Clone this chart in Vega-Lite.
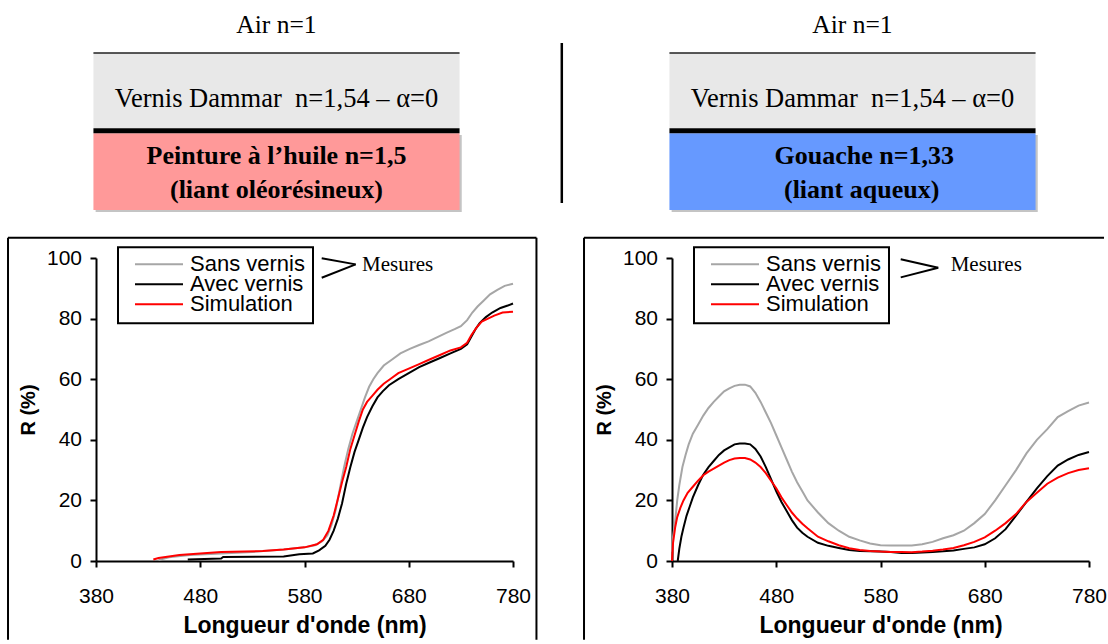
{
  "$schema": "https://vega.github.io/schema/vega-lite/v6.json",
  "autosize": {"type": "pad"},
  "padding": {"left": 7, "top": 0, "right": 0, "bottom": 0},
  "background": "white",
  "columns": 2,
  "spacing": {"row": 28, "column": 159},
  "bounds": "flush",
  "resolve": {"scale": {"color": "independent"}},
  "config": {
    "view": {"stroke": null},
    "axis": {"domainColor": "black", "domainWidth": 2, "tickColor": "black", "tickWidth": 2, "tickSize": 6, "labelFont": "Liberation Sans", "labelFontSize": 21, "labelColor": "black", "titleFont": "Liberation Sans", "titleFontSize": 20, "titleFontWeight": "bold", "titleColor": "black", "grid": false, "labelFlush": false, "labelOverlap": false},
    "axisX": {"labelPadding": 18.5, "titlePadding": 8, "titleFontSize": 23},
    "axisY": {"labelPadding": 8.5, "titlePadding": 8},
    "legend": {"strokeWidth": 2}
  },
  "datasets": {
    "one": [{"k": 1}],
    "oil": [
      {"serie": "Sans vernis", "nm": 440, "R": 0.3}, {"serie": "Sans vernis", "nm": 450, "R": 1.2}, {"serie": "Sans vernis", "nm": 470, "R": 2}, {"serie": "Sans vernis", "nm": 500, "R": 2.5}, {"serie": "Sans vernis", "nm": 530, "R": 3}, {"serie": "Sans vernis", "nm": 560, "R": 3.8}, {"serie": "Sans vernis", "nm": 580, "R": 4.5}, {"serie": "Sans vernis", "nm": 590, "R": 5.2}, {"serie": "Sans vernis", "nm": 597, "R": 6.5}, {"serie": "Sans vernis", "nm": 602, "R": 8.5}, {"serie": "Sans vernis", "nm": 606, "R": 12}, {"serie": "Sans vernis", "nm": 610, "R": 17}, {"serie": "Sans vernis", "nm": 614, "R": 24}, {"serie": "Sans vernis", "nm": 618, "R": 31}, {"serie": "Sans vernis", "nm": 622, "R": 37}, {"serie": "Sans vernis", "nm": 626, "R": 42}, {"serie": "Sans vernis", "nm": 630, "R": 46}, {"serie": "Sans vernis", "nm": 634, "R": 50}, {"serie": "Sans vernis", "nm": 638, "R": 54}, {"serie": "Sans vernis", "nm": 642, "R": 57.5}, {"serie": "Sans vernis", "nm": 646, "R": 60}, {"serie": "Sans vernis", "nm": 650, "R": 62}, {"serie": "Sans vernis", "nm": 656, "R": 64.5}, {"serie": "Sans vernis", "nm": 664, "R": 66.5}, {"serie": "Sans vernis", "nm": 672, "R": 68.5}, {"serie": "Sans vernis", "nm": 681, "R": 70}, {"serie": "Sans vernis", "nm": 690, "R": 71.3}, {"serie": "Sans vernis", "nm": 699, "R": 72.5}, {"serie": "Sans vernis", "nm": 708, "R": 74}, {"serie": "Sans vernis", "nm": 716, "R": 75.3}, {"serie": "Sans vernis", "nm": 724, "R": 76.5}, {"serie": "Sans vernis", "nm": 730, "R": 77.5}, {"serie": "Sans vernis", "nm": 736, "R": 79.5}, {"serie": "Sans vernis", "nm": 741, "R": 82}, {"serie": "Sans vernis", "nm": 746, "R": 84}, {"serie": "Sans vernis", "nm": 752, "R": 86}, {"serie": "Sans vernis", "nm": 758, "R": 88}, {"serie": "Sans vernis", "nm": 765, "R": 89.5}, {"serie": "Sans vernis", "nm": 772, "R": 90.8}, {"serie": "Sans vernis", "nm": 780, "R": 91.5},
      {"serie": "Avec vernis", "nm": 468, "R": 0.5}, {"serie": "Avec vernis", "nm": 500, "R": 0.8}, {"serie": "Avec vernis", "nm": 502, "R": 1.3}, {"serie": "Avec vernis", "nm": 560, "R": 1.5}, {"serie": "Avec vernis", "nm": 575, "R": 2.2}, {"serie": "Avec vernis", "nm": 588, "R": 2.5}, {"serie": "Avec vernis", "nm": 594, "R": 3.5}, {"serie": "Avec vernis", "nm": 600, "R": 5}, {"serie": "Avec vernis", "nm": 604, "R": 7}, {"serie": "Avec vernis", "nm": 608, "R": 10}, {"serie": "Avec vernis", "nm": 612, "R": 14}, {"serie": "Avec vernis", "nm": 616, "R": 19}, {"serie": "Avec vernis", "nm": 620, "R": 25.5}, {"serie": "Avec vernis", "nm": 624, "R": 31}, {"serie": "Avec vernis", "nm": 628, "R": 36}, {"serie": "Avec vernis", "nm": 632, "R": 40}, {"serie": "Avec vernis", "nm": 636, "R": 44}, {"serie": "Avec vernis", "nm": 640, "R": 47.5}, {"serie": "Avec vernis", "nm": 645, "R": 51}, {"serie": "Avec vernis", "nm": 650, "R": 54}, {"serie": "Avec vernis", "nm": 655, "R": 56}, {"serie": "Avec vernis", "nm": 661, "R": 58}, {"serie": "Avec vernis", "nm": 670, "R": 60}, {"serie": "Avec vernis", "nm": 680, "R": 62}, {"serie": "Avec vernis", "nm": 690, "R": 64}, {"serie": "Avec vernis", "nm": 700, "R": 65.5}, {"serie": "Avec vernis", "nm": 710, "R": 67}, {"serie": "Avec vernis", "nm": 720, "R": 68.5}, {"serie": "Avec vernis", "nm": 730, "R": 70}, {"serie": "Avec vernis", "nm": 736, "R": 71.5}, {"serie": "Avec vernis", "nm": 740, "R": 74}, {"serie": "Avec vernis", "nm": 744, "R": 76.5}, {"serie": "Avec vernis", "nm": 748, "R": 78.5}, {"serie": "Avec vernis", "nm": 754, "R": 80.5}, {"serie": "Avec vernis", "nm": 760, "R": 82}, {"serie": "Avec vernis", "nm": 768, "R": 83.5}, {"serie": "Avec vernis", "nm": 775, "R": 84.3}, {"serie": "Avec vernis", "nm": 780, "R": 85},
      {"serie": "Simulation", "nm": 435, "R": 0.5}, {"serie": "Simulation", "nm": 440, "R": 1}, {"serie": "Simulation", "nm": 450, "R": 1.5}, {"serie": "Simulation", "nm": 460, "R": 2}, {"serie": "Simulation", "nm": 480, "R": 2.5}, {"serie": "Simulation", "nm": 500, "R": 3}, {"serie": "Simulation", "nm": 540, "R": 3.3}, {"serie": "Simulation", "nm": 560, "R": 3.8}, {"serie": "Simulation", "nm": 580, "R": 4.5}, {"serie": "Simulation", "nm": 592, "R": 5.5}, {"serie": "Simulation", "nm": 598, "R": 7}, {"serie": "Simulation", "nm": 603, "R": 10}, {"serie": "Simulation", "nm": 608, "R": 15}, {"serie": "Simulation", "nm": 612, "R": 20.5}, {"serie": "Simulation", "nm": 616, "R": 26}, {"serie": "Simulation", "nm": 620, "R": 31}, {"serie": "Simulation", "nm": 624, "R": 37}, {"serie": "Simulation", "nm": 628, "R": 41.5}, {"serie": "Simulation", "nm": 632, "R": 46}, {"serie": "Simulation", "nm": 636, "R": 50}, {"serie": "Simulation", "nm": 640, "R": 52.5}, {"serie": "Simulation", "nm": 645, "R": 54.5}, {"serie": "Simulation", "nm": 650, "R": 56.5}, {"serie": "Simulation", "nm": 656, "R": 58.5}, {"serie": "Simulation", "nm": 662, "R": 60}, {"serie": "Simulation", "nm": 670, "R": 62}, {"serie": "Simulation", "nm": 680, "R": 63.5}, {"serie": "Simulation", "nm": 690, "R": 65}, {"serie": "Simulation", "nm": 700, "R": 66.5}, {"serie": "Simulation", "nm": 710, "R": 68}, {"serie": "Simulation", "nm": 720, "R": 69.5}, {"serie": "Simulation", "nm": 730, "R": 70.5}, {"serie": "Simulation", "nm": 736, "R": 72}, {"serie": "Simulation", "nm": 740, "R": 74.5}, {"serie": "Simulation", "nm": 745, "R": 77}, {"serie": "Simulation", "nm": 750, "R": 79}, {"serie": "Simulation", "nm": 756, "R": 80}, {"serie": "Simulation", "nm": 762, "R": 81}, {"serie": "Simulation", "nm": 770, "R": 82}, {"serie": "Simulation", "nm": 780, "R": 82.3}
    ],
    "gouache": [
      {"serie": "Sans vernis", "nm": 380, "R": 3}, {"serie": "Sans vernis", "nm": 381, "R": 8}, {"serie": "Sans vernis", "nm": 383, "R": 13}, {"serie": "Sans vernis", "nm": 385, "R": 20}, {"serie": "Sans vernis", "nm": 387, "R": 25}, {"serie": "Sans vernis", "nm": 390, "R": 31}, {"serie": "Sans vernis", "nm": 393, "R": 35}, {"serie": "Sans vernis", "nm": 396, "R": 38.5}, {"serie": "Sans vernis", "nm": 400, "R": 42}, {"serie": "Sans vernis", "nm": 405, "R": 45}, {"serie": "Sans vernis", "nm": 410, "R": 48}, {"serie": "Sans vernis", "nm": 415, "R": 50.5}, {"serie": "Sans vernis", "nm": 420, "R": 52.5}, {"serie": "Sans vernis", "nm": 425, "R": 54.3}, {"serie": "Sans vernis", "nm": 430, "R": 56}, {"serie": "Sans vernis", "nm": 435, "R": 57}, {"serie": "Sans vernis", "nm": 440, "R": 57.8}, {"serie": "Sans vernis", "nm": 445, "R": 58.2}, {"serie": "Sans vernis", "nm": 450, "R": 58.2}, {"serie": "Sans vernis", "nm": 455, "R": 57.6}, {"serie": "Sans vernis", "nm": 460, "R": 55.5}, {"serie": "Sans vernis", "nm": 465, "R": 52.5}, {"serie": "Sans vernis", "nm": 470, "R": 49}, {"serie": "Sans vernis", "nm": 475, "R": 45.5}, {"serie": "Sans vernis", "nm": 480, "R": 41.5}, {"serie": "Sans vernis", "nm": 485, "R": 37.5}, {"serie": "Sans vernis", "nm": 490, "R": 33.5}, {"serie": "Sans vernis", "nm": 495, "R": 29.5}, {"serie": "Sans vernis", "nm": 500, "R": 26}, {"serie": "Sans vernis", "nm": 505, "R": 23}, {"serie": "Sans vernis", "nm": 510, "R": 20}, {"serie": "Sans vernis", "nm": 520, "R": 16}, {"serie": "Sans vernis", "nm": 530, "R": 12.5}, {"serie": "Sans vernis", "nm": 540, "R": 10}, {"serie": "Sans vernis", "nm": 550, "R": 8}, {"serie": "Sans vernis", "nm": 560, "R": 6.8}, {"serie": "Sans vernis", "nm": 570, "R": 5.8}, {"serie": "Sans vernis", "nm": 580, "R": 5.2}, {"serie": "Sans vernis", "nm": 590, "R": 5.1}, {"serie": "Sans vernis", "nm": 600, "R": 5.1}, {"serie": "Sans vernis", "nm": 610, "R": 5.1}, {"serie": "Sans vernis", "nm": 620, "R": 5.5}, {"serie": "Sans vernis", "nm": 630, "R": 6.3}, {"serie": "Sans vernis", "nm": 640, "R": 7.5}, {"serie": "Sans vernis", "nm": 650, "R": 8.5}, {"serie": "Sans vernis", "nm": 660, "R": 10}, {"serie": "Sans vernis", "nm": 670, "R": 12.5}, {"serie": "Sans vernis", "nm": 680, "R": 15.5}, {"serie": "Sans vernis", "nm": 690, "R": 20}, {"serie": "Sans vernis", "nm": 700, "R": 25}, {"serie": "Sans vernis", "nm": 710, "R": 30}, {"serie": "Sans vernis", "nm": 720, "R": 35.5}, {"serie": "Sans vernis", "nm": 730, "R": 40}, {"serie": "Sans vernis", "nm": 740, "R": 43.5}, {"serie": "Sans vernis", "nm": 750, "R": 47.5}, {"serie": "Sans vernis", "nm": 760, "R": 49.5}, {"serie": "Sans vernis", "nm": 770, "R": 51.3}, {"serie": "Sans vernis", "nm": 780, "R": 52.3},
      {"serie": "Avec vernis", "nm": 385.5, "R": 0}, {"serie": "Avec vernis", "nm": 387, "R": 4}, {"serie": "Avec vernis", "nm": 389, "R": 8}, {"serie": "Avec vernis", "nm": 391, "R": 11}, {"serie": "Avec vernis", "nm": 394, "R": 15}, {"serie": "Avec vernis", "nm": 397, "R": 18}, {"serie": "Avec vernis", "nm": 400, "R": 21}, {"serie": "Avec vernis", "nm": 405, "R": 25}, {"serie": "Avec vernis", "nm": 410, "R": 28.5}, {"serie": "Avec vernis", "nm": 415, "R": 31}, {"serie": "Avec vernis", "nm": 420, "R": 33}, {"serie": "Avec vernis", "nm": 425, "R": 35}, {"serie": "Avec vernis", "nm": 430, "R": 36.5}, {"serie": "Avec vernis", "nm": 435, "R": 37.5}, {"serie": "Avec vernis", "nm": 440, "R": 38.5}, {"serie": "Avec vernis", "nm": 445, "R": 38.8}, {"serie": "Avec vernis", "nm": 450, "R": 38.8}, {"serie": "Avec vernis", "nm": 455, "R": 38.5}, {"serie": "Avec vernis", "nm": 460, "R": 37}, {"serie": "Avec vernis", "nm": 465, "R": 34.5}, {"serie": "Avec vernis", "nm": 470, "R": 31}, {"serie": "Avec vernis", "nm": 475, "R": 27}, {"serie": "Avec vernis", "nm": 480, "R": 23}, {"serie": "Avec vernis", "nm": 485, "R": 19.5}, {"serie": "Avec vernis", "nm": 490, "R": 16.5}, {"serie": "Avec vernis", "nm": 495, "R": 13.5}, {"serie": "Avec vernis", "nm": 500, "R": 11}, {"serie": "Avec vernis", "nm": 505, "R": 9.3}, {"serie": "Avec vernis", "nm": 510, "R": 8}, {"serie": "Avec vernis", "nm": 520, "R": 6}, {"serie": "Avec vernis", "nm": 530, "R": 5}, {"serie": "Avec vernis", "nm": 540, "R": 4.3}, {"serie": "Avec vernis", "nm": 550, "R": 3.6}, {"serie": "Avec vernis", "nm": 560, "R": 3.3}, {"serie": "Avec vernis", "nm": 570, "R": 3.2}, {"serie": "Avec vernis", "nm": 580, "R": 3.1}, {"serie": "Avec vernis", "nm": 590, "R": 3}, {"serie": "Avec vernis", "nm": 600, "R": 2.6}, {"serie": "Avec vernis", "nm": 610, "R": 2.6}, {"serie": "Avec vernis", "nm": 620, "R": 2.8}, {"serie": "Avec vernis", "nm": 630, "R": 3}, {"serie": "Avec vernis", "nm": 640, "R": 3.2}, {"serie": "Avec vernis", "nm": 650, "R": 3.5}, {"serie": "Avec vernis", "nm": 660, "R": 4}, {"serie": "Avec vernis", "nm": 670, "R": 4.5}, {"serie": "Avec vernis", "nm": 680, "R": 5.5}, {"serie": "Avec vernis", "nm": 690, "R": 7.5}, {"serie": "Avec vernis", "nm": 700, "R": 10.5}, {"serie": "Avec vernis", "nm": 710, "R": 15}, {"serie": "Avec vernis", "nm": 720, "R": 19.5}, {"serie": "Avec vernis", "nm": 730, "R": 24}, {"serie": "Avec vernis", "nm": 740, "R": 28}, {"serie": "Avec vernis", "nm": 750, "R": 31.5}, {"serie": "Avec vernis", "nm": 760, "R": 33.5}, {"serie": "Avec vernis", "nm": 770, "R": 35}, {"serie": "Avec vernis", "nm": 780, "R": 36},
      {"serie": "Simulation", "nm": 380, "R": 0}, {"serie": "Simulation", "nm": 381, "R": 6}, {"serie": "Simulation", "nm": 383, "R": 11}, {"serie": "Simulation", "nm": 385, "R": 14.5}, {"serie": "Simulation", "nm": 388, "R": 17.5}, {"serie": "Simulation", "nm": 391, "R": 20}, {"serie": "Simulation", "nm": 395, "R": 22.5}, {"serie": "Simulation", "nm": 400, "R": 24.5}, {"serie": "Simulation", "nm": 405, "R": 26.5}, {"serie": "Simulation", "nm": 410, "R": 28.3}, {"serie": "Simulation", "nm": 415, "R": 29.5}, {"serie": "Simulation", "nm": 420, "R": 30.5}, {"serie": "Simulation", "nm": 425, "R": 31.5}, {"serie": "Simulation", "nm": 430, "R": 32.5}, {"serie": "Simulation", "nm": 435, "R": 33.3}, {"serie": "Simulation", "nm": 440, "R": 33.8}, {"serie": "Simulation", "nm": 445, "R": 34}, {"serie": "Simulation", "nm": 450, "R": 34}, {"serie": "Simulation", "nm": 455, "R": 33.5}, {"serie": "Simulation", "nm": 460, "R": 32.5}, {"serie": "Simulation", "nm": 465, "R": 31}, {"serie": "Simulation", "nm": 470, "R": 29}, {"serie": "Simulation", "nm": 475, "R": 26.5}, {"serie": "Simulation", "nm": 480, "R": 24}, {"serie": "Simulation", "nm": 485, "R": 21}, {"serie": "Simulation", "nm": 490, "R": 18.5}, {"serie": "Simulation", "nm": 495, "R": 16}, {"serie": "Simulation", "nm": 500, "R": 14}, {"serie": "Simulation", "nm": 505, "R": 12.3}, {"serie": "Simulation", "nm": 510, "R": 10.8}, {"serie": "Simulation", "nm": 520, "R": 8}, {"serie": "Simulation", "nm": 530, "R": 6.5}, {"serie": "Simulation", "nm": 540, "R": 5.2}, {"serie": "Simulation", "nm": 550, "R": 4.2}, {"serie": "Simulation", "nm": 560, "R": 3.6}, {"serie": "Simulation", "nm": 570, "R": 3.3}, {"serie": "Simulation", "nm": 580, "R": 3.1}, {"serie": "Simulation", "nm": 590, "R": 3}, {"serie": "Simulation", "nm": 600, "R": 3}, {"serie": "Simulation", "nm": 610, "R": 2.9}, {"serie": "Simulation", "nm": 620, "R": 3.1}, {"serie": "Simulation", "nm": 630, "R": 3.4}, {"serie": "Simulation", "nm": 640, "R": 3.8}, {"serie": "Simulation", "nm": 650, "R": 4.3}, {"serie": "Simulation", "nm": 660, "R": 5.2}, {"serie": "Simulation", "nm": 670, "R": 6.3}, {"serie": "Simulation", "nm": 680, "R": 7.8}, {"serie": "Simulation", "nm": 690, "R": 10}, {"serie": "Simulation", "nm": 700, "R": 12.5}, {"serie": "Simulation", "nm": 710, "R": 15.5}, {"serie": "Simulation", "nm": 720, "R": 19.5}, {"serie": "Simulation", "nm": 730, "R": 22.5}, {"serie": "Simulation", "nm": 740, "R": 25.5}, {"serie": "Simulation", "nm": 750, "R": 27.5}, {"serie": "Simulation", "nm": 760, "R": 29}, {"serie": "Simulation", "nm": 770, "R": 30}, {"serie": "Simulation", "nm": 780, "R": 30.6}
    ]
  },
  "concat": [
    {
      "width": 417, "height": 230,
      "data": {"name": "one"},
      "layer": [
        {"mark": {"type": "rect", "fill": "#E8E8E8"}, "encoding": {"x": {"datum": 0, "type": "quantitative", "scale": {"domain": [0.7, 114.6]}, "axis": null}, "x2": {"datum": 100}, "y": {"datum": 52.7, "type": "quantitative", "scale": {"domain": [0, 230], "reverse": true}, "axis": null}, "y2": {"datum": 128.3}}},
        {"mark": {"type": "rect", "fill": "#C4C4C4"}, "encoding": {"x": {"datum": 0.6, "type": "quantitative", "scale": {"domain": [0.7, 114.6]}, "axis": null}, "x2": {"datum": 100.6}, "y": {"datum": 135, "type": "quantitative", "scale": {"domain": [0, 230], "reverse": true}, "axis": null}, "y2": {"datum": 212}}},
        {"mark": {"type": "rect", "fill": "#FF9999"}, "encoding": {"x": {"datum": 0, "type": "quantitative", "scale": {"domain": [0.7, 114.6]}, "axis": null}, "x2": {"datum": 100}, "y": {"datum": 133.3, "type": "quantitative", "scale": {"domain": [0, 230], "reverse": true}, "axis": null}, "y2": {"datum": 210}}},
        {"mark": {"type": "rule", "stroke": "#222222", "strokeWidth": 1.5}, "encoding": {"x": {"datum": 0, "type": "quantitative", "scale": {"domain": [0.7, 114.6]}, "axis": null}, "x2": {"datum": 100}, "y": {"datum": 53, "type": "quantitative", "scale": {"domain": [0, 230], "reverse": true}, "axis": null}}},
        {"mark": {"type": "rule", "stroke": "black", "strokeWidth": 5}, "encoding": {"x": {"datum": 0, "type": "quantitative", "scale": {"domain": [0.7, 114.6]}, "axis": null}, "x2": {"datum": 100}, "y": {"datum": 130.8, "type": "quantitative", "scale": {"domain": [0, 230], "reverse": true}, "axis": null}}},
        {"mark": {"type": "text", "text": "Air n=1", "font": "Liberation Serif", "fontSize": 25.5, "align": "center", "baseline": "middle", "color": "black"}, "encoding": {"x": {"datum": 50, "type": "quantitative", "scale": {"domain": [0.7, 114.6]}, "axis": null}, "y": {"datum": 25, "type": "quantitative", "scale": {"domain": [0, 230], "reverse": true}, "axis": null}}},
        {"mark": {"type": "text", "text": "Vernis Dammar\u00a0\u00a0n=1,54 – α=0", "font": "Liberation Serif", "fontSize": 26.5, "align": "center", "baseline": "middle", "color": "black"}, "encoding": {"x": {"datum": 50, "type": "quantitative", "scale": {"domain": [0.7, 114.6]}, "axis": null}, "y": {"datum": 98.5, "type": "quantitative", "scale": {"domain": [0, 230], "reverse": true}, "axis": null}}},
        {"mark": {"type": "text", "text": "Peinture à l’huile n=1,5", "font": "Liberation Serif", "fontSize": 26, "fontWeight": "bold", "align": "center", "baseline": "middle", "color": "black"}, "encoding": {"x": {"datum": 50, "type": "quantitative", "scale": {"domain": [0.7, 114.6]}, "axis": null}, "y": {"datum": 156, "type": "quantitative", "scale": {"domain": [0, 230], "reverse": true}, "axis": null}}},
        {"mark": {"type": "text", "text": "(liant oléorésineux)", "font": "Liberation Serif", "fontSize": 26, "fontWeight": "bold", "align": "center", "baseline": "middle", "color": "black"}, "encoding": {"x": {"datum": 50, "type": "quantitative", "scale": {"domain": [0.7, 114.6]}, "axis": null}, "y": {"datum": 190, "type": "quantitative", "scale": {"domain": [0, 230], "reverse": true}, "axis": null}}}
      ]
    },
    {
      "width": 417, "height": 230,
      "data": {"name": "one"},
      "layer": [
        {"mark": {"type": "rect", "fill": "#E8E8E8"}, "encoding": {"x": {"datum": 0, "type": "quantitative", "scale": {"domain": [0.7, 114.6]}, "axis": null}, "x2": {"datum": 100}, "y": {"datum": 52.7, "type": "quantitative", "scale": {"domain": [0, 230], "reverse": true}, "axis": null}, "y2": {"datum": 128.3}}},
        {"mark": {"type": "rect", "fill": "#C4C4C4"}, "encoding": {"x": {"datum": 0.6, "type": "quantitative", "scale": {"domain": [0.7, 114.6]}, "axis": null}, "x2": {"datum": 100.6}, "y": {"datum": 135, "type": "quantitative", "scale": {"domain": [0, 230], "reverse": true}, "axis": null}, "y2": {"datum": 212}}},
        {"mark": {"type": "rect", "fill": "#6699FF"}, "encoding": {"x": {"datum": 0, "type": "quantitative", "scale": {"domain": [0.7, 114.6]}, "axis": null}, "x2": {"datum": 100}, "y": {"datum": 133.3, "type": "quantitative", "scale": {"domain": [0, 230], "reverse": true}, "axis": null}, "y2": {"datum": 210}}},
        {"mark": {"type": "rule", "stroke": "#222222", "strokeWidth": 1.5}, "encoding": {"x": {"datum": 0, "type": "quantitative", "scale": {"domain": [0.7, 114.6]}, "axis": null}, "x2": {"datum": 100}, "y": {"datum": 53, "type": "quantitative", "scale": {"domain": [0, 230], "reverse": true}, "axis": null}}},
        {"mark": {"type": "rule", "stroke": "black", "strokeWidth": 5}, "encoding": {"x": {"datum": 0, "type": "quantitative", "scale": {"domain": [0.7, 114.6]}, "axis": null}, "x2": {"datum": 100}, "y": {"datum": 130.8, "type": "quantitative", "scale": {"domain": [0, 230], "reverse": true}, "axis": null}}},
        {"mark": {"type": "rule", "stroke": "black", "strokeWidth": 2.5}, "encoding": {"x": {"datum": -29.4, "type": "quantitative", "scale": {"domain": [0.7, 114.6]}, "axis": null}, "y": {"datum": 43, "type": "quantitative", "scale": {"domain": [0, 230], "reverse": true}, "axis": null}, "y2": {"datum": 203}}},
        {"mark": {"type": "text", "text": "Air n=1", "font": "Liberation Serif", "fontSize": 25.5, "align": "center", "baseline": "middle", "color": "black"}, "encoding": {"x": {"datum": 50, "type": "quantitative", "scale": {"domain": [0.7, 114.6]}, "axis": null}, "y": {"datum": 25, "type": "quantitative", "scale": {"domain": [0, 230], "reverse": true}, "axis": null}}},
        {"mark": {"type": "text", "text": "Vernis Dammar\u00a0\u00a0n=1,54 – α=0", "font": "Liberation Serif", "fontSize": 26.5, "align": "center", "baseline": "middle", "color": "black"}, "encoding": {"x": {"datum": 50, "type": "quantitative", "scale": {"domain": [0.7, 114.6]}, "axis": null}, "y": {"datum": 98.5, "type": "quantitative", "scale": {"domain": [0, 230], "reverse": true}, "axis": null}}},
        {"mark": {"type": "text", "text": "Gouache n=1,33", "font": "Liberation Serif", "fontSize": 26, "fontWeight": "bold", "align": "center", "baseline": "middle", "color": "black"}, "encoding": {"x": {"datum": 53.2, "type": "quantitative", "scale": {"domain": [0.7, 114.6]}, "axis": null}, "y": {"datum": 156, "type": "quantitative", "scale": {"domain": [0, 230], "reverse": true}, "axis": null}}},
        {"mark": {"type": "text", "text": "(liant aqueux)", "font": "Liberation Serif", "fontSize": 26, "fontWeight": "bold", "align": "center", "baseline": "middle", "color": "black"}, "encoding": {"x": {"datum": 52.5, "type": "quantitative", "scale": {"domain": [0.7, 114.6]}, "axis": null}, "y": {"datum": 190, "type": "quantitative", "scale": {"domain": [0, 230], "reverse": true}, "axis": null}}}
      ]
    },
    {
      "width": 417, "height": 303,
      "layer": [
        {
          "data": {"name": "oil"},
          "mark": {"type": "line", "strokeWidth": 2},
          "encoding": {
            "x": {"field": "nm", "type": "quantitative", "scale": {"domain": [380, 780], "nice": false}, "axis": {"values": [380, 480, 580, 680, 780], "title": "Longueur d'onde (nm)"}},
            "y": {"field": "R", "type": "quantitative", "scale": {"domain": [0, 100], "nice": false}, "axis": {"values": [0, 20, 40, 60, 80, 100], "title": "R (%)"}},
            "color": {"field": "serie", "type": "nominal", "scale": {"domain": ["Sans vernis", "Avec vernis", "Simulation"], "range": ["#A6A6A6", "#000000", "#FF0000"]},
              "legend": {"orient": "none", "legendX": 22, "legendY": -10.7, "title": null, "symbolType": "stroke", "symbolSize": 2304, "symbolStrokeWidth": 2, "labelFont": "Liberation Sans", "labelFontSize": 22, "labelColor": "black", "strokeColor": "black", "fillColor": "white", "padding": 8, "symbolOffset": 8, "labelOffset": 6, "clipHeight": 18, "rowPadding": -3}}
          }
        },
        {"data": {"name": "one"}, "mark": {"type": "rule", "stroke": "black", "strokeWidth": 2}, "encoding": {"x": {"datum": 295.6, "type": "quantitative", "scale": {"domain": [380, 780], "nice": false}, "axis": {"values": [380, 480, 580, 680, 780], "title": "Longueur d'onde (nm)"}}, "y": {"datum": 106.7, "type": "quantitative", "scale": {"domain": [0, 100], "nice": false}, "axis": {"values": [0, 20, 40, 60, 80, 100], "title": "R (%)"}}, "y2": {"datum": -26}}},
        {"data": {"name": "one"}, "mark": {"type": "rule", "stroke": "black", "strokeWidth": 2}, "encoding": {"x": {"datum": 295.6, "type": "quantitative", "scale": {"domain": [380, 780], "nice": false}, "axis": {"values": [380, 480, 580, 680, 780], "title": "Longueur d'onde (nm)"}}, "x2": {"datum": 802.5}, "y": {"datum": 106.7, "type": "quantitative", "scale": {"domain": [0, 100], "nice": false}, "axis": {"values": [0, 20, 40, 60, 80, 100], "title": "R (%)"}}}},
        {"data": {"name": "one"}, "mark": {"type": "rule", "stroke": "black", "strokeWidth": 2}, "encoding": {"x": {"datum": 802.5, "type": "quantitative", "scale": {"domain": [380, 780], "nice": false}, "axis": {"values": [380, 480, 580, 680, 780], "title": "Longueur d'onde (nm)"}}, "y": {"datum": 106.7, "type": "quantitative", "scale": {"domain": [0, 100], "nice": false}, "axis": {"values": [0, 20, 40, 60, 80, 100], "title": "R (%)"}}, "y2": {"datum": -26}}},
        {"data": {"name": "one"}, "mark": {"type": "rule", "stroke": "black", "strokeWidth": 2}, "encoding": {"x": {"datum": 596.5, "type": "quantitative", "scale": {"domain": [380, 780], "nice": false}, "axis": {"values": [380, 480, 580, 680, 780], "title": "Longueur d'onde (nm)"}}, "x2": {"datum": 629.1}, "y": {"datum": 99.9, "type": "quantitative", "scale": {"domain": [0, 100], "nice": false}, "axis": {"values": [0, 20, 40, 60, 80, 100], "title": "R (%)"}}, "y2": {"datum": 97.9}}},
        {"data": {"name": "one"}, "mark": {"type": "rule", "stroke": "black", "strokeWidth": 2}, "encoding": {"x": {"datum": 596.5, "type": "quantitative", "scale": {"domain": [380, 780], "nice": false}, "axis": {"values": [380, 480, 580, 680, 780], "title": "Longueur d'onde (nm)"}}, "x2": {"datum": 629.1}, "y": {"datum": 93.5, "type": "quantitative", "scale": {"domain": [0, 100], "nice": false}, "axis": {"values": [0, 20, 40, 60, 80, 100], "title": "R (%)"}}, "y2": {"datum": 97.9}}},
        {"data": {"name": "one"}, "mark": {"type": "text", "text": "Mesures", "font": "Liberation Serif", "fontSize": 21, "align": "left", "baseline": "middle", "color": "black"}, "encoding": {"x": {"datum": 635.2, "type": "quantitative", "scale": {"domain": [380, 780], "nice": false}, "axis": {"values": [380, 480, 580, 680, 780], "title": "Longueur d'onde (nm)"}}, "y": {"datum": 97.7, "type": "quantitative", "scale": {"domain": [0, 100], "nice": false}, "axis": {"values": [0, 20, 40, 60, 80, 100], "title": "R (%)"}}}}
      ]
    },
    {
      "width": 417, "height": 303,
      "layer": [
        {
          "data": {"name": "gouache"},
          "mark": {"type": "line", "strokeWidth": 2},
          "encoding": {
            "x": {"field": "nm", "type": "quantitative", "scale": {"domain": [380, 780], "nice": false}, "axis": {"values": [380, 480, 580, 680, 780], "title": "Longueur d'onde (nm)"}},
            "y": {"field": "R", "type": "quantitative", "scale": {"domain": [0, 100], "nice": false}, "axis": {"values": [0, 20, 40, 60, 80, 100], "title": "R (%)"}},
            "color": {"field": "serie", "type": "nominal", "scale": {"domain": ["Sans vernis", "Avec vernis", "Simulation"], "range": ["#A6A6A6", "#000000", "#FF0000"]},
              "legend": {"orient": "none", "legendX": 22, "legendY": -10.7, "title": null, "symbolType": "stroke", "symbolSize": 2304, "symbolStrokeWidth": 2, "labelFont": "Liberation Sans", "labelFontSize": 22, "labelColor": "black", "strokeColor": "black", "fillColor": "white", "padding": 8, "symbolOffset": 8, "labelOffset": 6, "clipHeight": 18, "rowPadding": -3}}
          }
        },
        {"data": {"name": "one"}, "mark": {"type": "rule", "stroke": "black", "strokeWidth": 2}, "encoding": {"x": {"datum": 295.6, "type": "quantitative", "scale": {"domain": [380, 780], "nice": false}, "axis": {"values": [380, 480, 580, 680, 780], "title": "Longueur d'onde (nm)"}}, "y": {"datum": 106.7, "type": "quantitative", "scale": {"domain": [0, 100], "nice": false}, "axis": {"values": [0, 20, 40, 60, 80, 100], "title": "R (%)"}}, "y2": {"datum": -26}}},
        {"data": {"name": "one"}, "mark": {"type": "rule", "stroke": "black", "strokeWidth": 2}, "encoding": {"x": {"datum": 295.6, "type": "quantitative", "scale": {"domain": [380, 780], "nice": false}, "axis": {"values": [380, 480, 580, 680, 780], "title": "Longueur d'onde (nm)"}}, "x2": {"datum": 794.4}, "y": {"datum": 106.7, "type": "quantitative", "scale": {"domain": [0, 100], "nice": false}, "axis": {"values": [0, 20, 40, 60, 80, 100], "title": "R (%)"}}}},
        {"data": {"name": "one"}, "mark": {"type": "rule", "stroke": "black", "strokeWidth": 2}, "encoding": {"x": {"datum": 599.4, "type": "quantitative", "scale": {"domain": [380, 780], "nice": false}, "axis": {"values": [380, 480, 580, 680, 780], "title": "Longueur d'onde (nm)"}}, "x2": {"datum": 635.4}, "y": {"datum": 99.6, "type": "quantitative", "scale": {"domain": [0, 100], "nice": false}, "axis": {"values": [0, 20, 40, 60, 80, 100], "title": "R (%)"}}, "y2": {"datum": 96.8}}},
        {"data": {"name": "one"}, "mark": {"type": "rule", "stroke": "black", "strokeWidth": 2}, "encoding": {"x": {"datum": 599.4, "type": "quantitative", "scale": {"domain": [380, 780], "nice": false}, "axis": {"values": [380, 480, 580, 680, 780], "title": "Longueur d'onde (nm)"}}, "x2": {"datum": 635.4}, "y": {"datum": 93.6, "type": "quantitative", "scale": {"domain": [0, 100], "nice": false}, "axis": {"values": [0, 20, 40, 60, 80, 100], "title": "R (%)"}}, "y2": {"datum": 96.8}}},
        {"data": {"name": "one"}, "mark": {"type": "text", "text": "Mesures", "font": "Liberation Serif", "fontSize": 21, "align": "left", "baseline": "middle", "color": "black"}, "encoding": {"x": {"datum": 647.3, "type": "quantitative", "scale": {"domain": [380, 780], "nice": false}, "axis": {"values": [380, 480, 580, 680, 780], "title": "Longueur d'onde (nm)"}}, "y": {"datum": 97.7, "type": "quantitative", "scale": {"domain": [0, 100], "nice": false}, "axis": {"values": [0, 20, 40, 60, 80, 100], "title": "R (%)"}}}}
      ]
    }
  ]
}
